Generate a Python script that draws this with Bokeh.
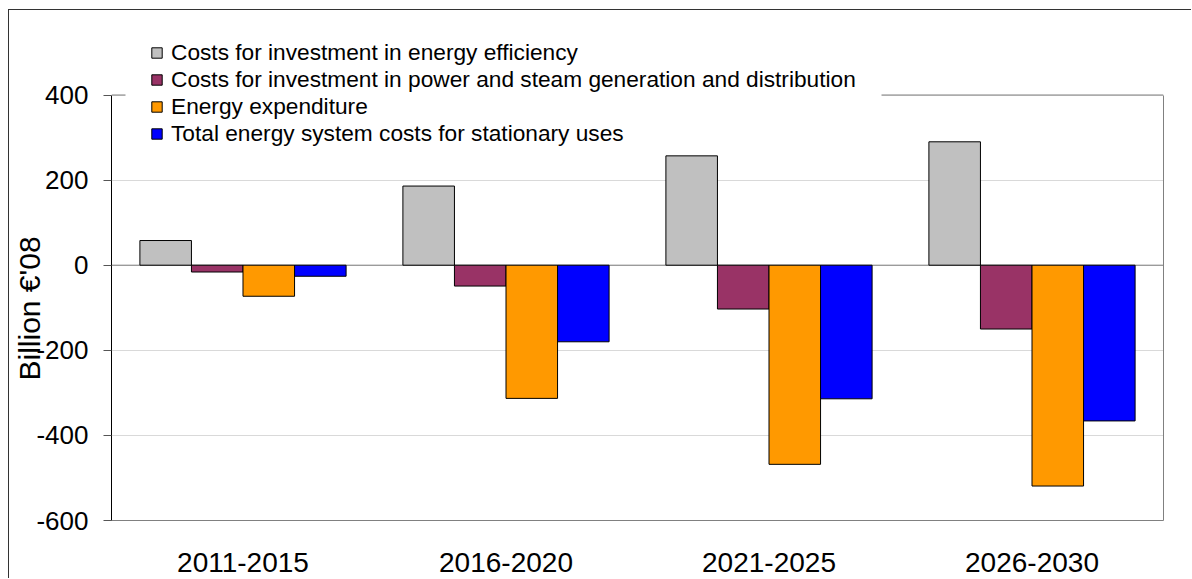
from bokeh.plotting import figure
from bokeh.models import (ColumnDataSource, FactorRange, Legend, LegendItem, Span, FixedTicker,
                          LinearAxis, Title, BoxAnnotation)
from bokeh.transform import dodge
from bokeh.embed import file_html
from bokeh.resources import INLINE

periods = ["2011-2015", "2016-2020", "2021-2025", "2026-2030"]
efficiency = [58, 186, 257, 290]
power_steam = [-16, -49, -103, -150]
energy_exp = [-73, -313, -468, -519]
total_costs = [-26, -180, -314, -366]
y_ticks = [-600, -400, -200, 0, 200, 400]

series_names = [
    "Costs for investment in energy efficiency",
    "Costs for investment in power and steam generation and distribution",
    "Energy expenditure",
    "Total energy system costs for stationary uses",
]
series_keys = ["eff", "pow", "exp", "tot"]
colors = ["#C0C0C0", "#993366", "#FF9900", "#0000FF"]

src = ColumnDataSource(dict(period=periods, eff=efficiency, pow=power_steam,
                            exp=energy_exp, tot=total_costs))

FONT = "Liberation Sans"
Y_MIN, Y_MAX = -600, 400
Y_VIEW_TOP = 598.6  # extra room above the plot area for the legend

p = figure(width=1183, height=569, x_range=FactorRange(factors=periods, range_padding=0),
           y_range=(Y_MIN, Y_VIEW_TOP), output_backend="svg", toolbar_location=None,
           min_border_left=102, min_border_right=29, min_border_top=0, min_border_bottom=59)
p.styles = {"margin-left": "8px", "margin-top": "9px",
            "border-left": "1px solid #333333", "border-top": "1px solid #333333"}

bw = 0.196
offsets = [-1.5 * bw, -0.5 * bw, 0.5 * bw, 1.5 * bw]
renderers = []
for key, off, col in zip(series_keys, offsets, colors):
    r = p.vbar(x=dodge("period", off, range=p.x_range), top=key, bottom=0, width=bw,
               source=src, fill_color=col, line_color="black", line_width=1)
    renderers.append(r)

p.outline_line_color = None
p.background_fill_color = "white"
p.border_fill_color = "white"

p.xgrid.grid_line_color = None
p.ygrid.ticker = FixedTicker(ticks=y_ticks)
p.ygrid.grid_line_color = "#D9D9D9"
p.add_layout(Span(location=0, dimension="width", line_color="#808080", line_width=1, level="underlay"))
p.add_layout(Span(location=Y_MAX, dimension="width", line_color="#808080", line_width=1, level="underlay"))
# white mask where the legend box interrupts the plot-area top border
p.add_layout(BoxAnnotation(left=14, right=770, bottom=420, top=431,
                           left_units="screen", right_units="screen",
                           bottom_units="screen", top_units="screen",
                           fill_color="white", fill_alpha=1.0, line_color=None, level="underlay"))

yax = p.yaxis[0]
yax.ticker = FixedTicker(ticks=y_ticks)
yax.bounds = (Y_MIN, Y_MAX)
yax.major_label_overrides = {t: str(t) for t in y_ticks}
yax.axis_line_color = "black"
yax.major_tick_line_color = "#555555"
yax.major_tick_out = 8
yax.major_tick_in = 0
yax.minor_tick_line_color = None
yax.major_label_standoff = 15
yax.major_label_text_font = FONT
yax.major_label_text_font_size = "26px"
yax.major_label_text_color = "black"

ytitle = Title(text="Billion \u20ac'08", align="left", offset=140, vertical_align="middle",
               standoff=-26, text_font=FONT, text_font_size="30px", text_font_style="normal",
               text_color="black")
p.add_layout(ytitle, "left")

rax = LinearAxis(bounds=(Y_MIN, Y_MAX), ticker=FixedTicker(ticks=[]))
rax.axis_line_color = "#808080"
rax.major_tick_line_color = None
rax.minor_tick_line_color = None
rax.major_label_text_font_size = "0px"
p.add_layout(rax, "right")

p.xaxis.axis_line_color = "#808080"
p.xaxis.major_tick_line_color = None
p.xaxis.minor_tick_line_color = None
p.xaxis.major_label_standoff = 26
p.xaxis.major_label_text_font = FONT
p.xaxis.major_label_text_font_size = "28px"
p.xaxis.major_label_text_color = "black"

legend = Legend(items=[LegendItem(label=n, renderers=[r]) for n, r in zip(series_names, renderers)],
                location=(39, 373), orientation="vertical")
legend.background_fill_color = "white"
legend.background_fill_alpha = 1.0
legend.border_line_color = None
legend.padding = 0
legend.margin = 0
legend.spacing = -1
legend.glyph_width = 13
legend.glyph_height = 13
legend.label_height = 20
legend.label_standoff = 8
legend.label_text_font = FONT
legend.label_text_font_size = "22.7px"
legend.label_text_color = "black"
p.add_layout(legend, "center")

open("out.html", "w").write(file_html(p, INLINE))
